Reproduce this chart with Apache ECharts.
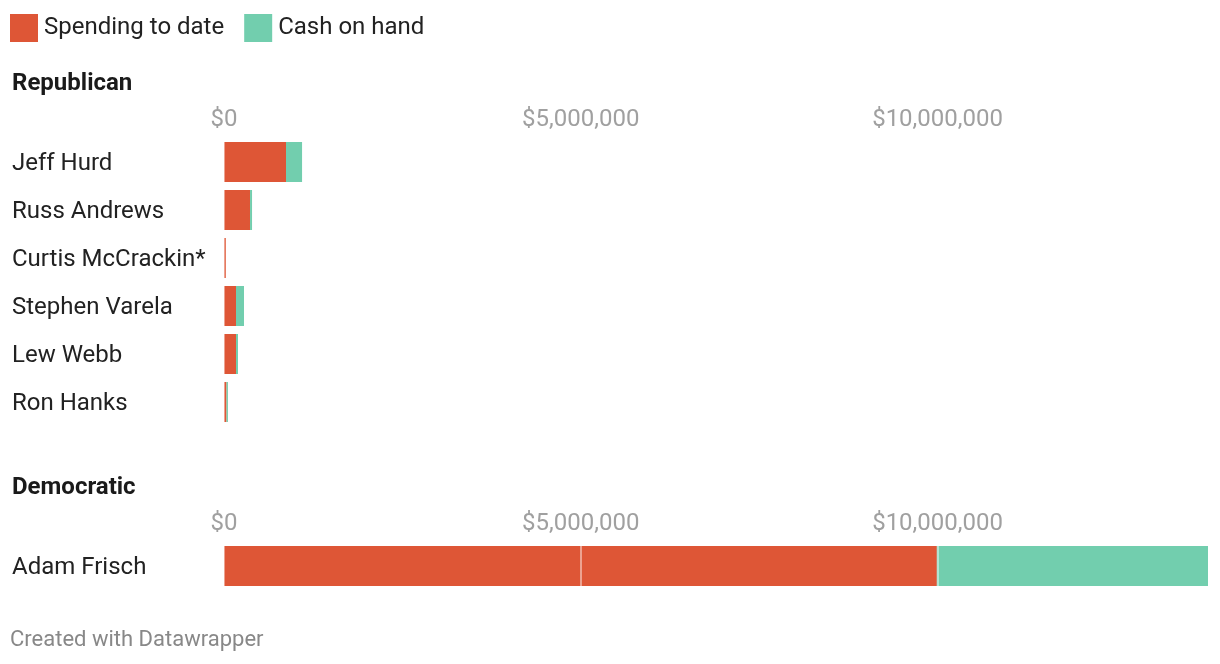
<!DOCTYPE html>
<html>
<head>
<meta charset="utf-8">
<script src="https://cdn.jsdelivr.net/npm/echarts@6/dist/echarts.min.js"></script>
<style>
html,body{margin:0;padding:0;background:#fff;}
#chart{width:1220px;height:664px;}
</style>
</head>
<body>
<div id="chart"></div>
<script>
const seriesNames = ['Spending to date', 'Cash on hand'];
const repNames = ['Jeff Hurd', 'Russ Andrews', 'Curtis McCrackin*', 'Stephen Varela', 'Lew Webb', 'Ron Hanks'];
const repSpending = [869000, 365000, 25000, 168000, 168000, 35000];
const repCash = [225000, 28000, 0, 112000, 28000, 20000];
const demNames = ['Adam Frisch'];
const demSpending = [9990000];
const demCash = [3800000];
const tickValues = [0, 5000000, 10000000];

const RED = '#de5636';
const GREEN = '#72ceae';
const FONT = 'Roboto';

const totals = repSpending.map((v, i) => v + repCash[i]).concat(demSpending.map((v, i) => v + demCash[i]));
const axisMax = Math.max(...totals);

function fmt(v) { return '$' + Math.round(v).toLocaleString('en-US'); }

function xAxisFor(gi) {
  return {
    type: 'value', gridIndex: gi, position: 'top', min: 0, max: axisMax, interval: 5000000,
    axisLine: {show: false}, axisTick: {show: false}, splitLine: {show: false},
    axisLabel: {
      show: true, margin: 6, color: '#a0a0a0', fontFamily: FONT, fontSize: 24,
      showMaxLabel: false,
      formatter: v => tickValues.includes(v) ? fmt(v) : ''
    }
  };
}
function yAxisFor(gi, names) {
  return {
    type: 'category', gridIndex: gi, data: names, inverse: true,
    axisLine: {show: false}, axisTick: {show: false}, splitLine: {show: false},
    axisLabel: {
      margin: 212, align: 'left', verticalAlign: 'middle', color: '#222', fontFamily: FONT, fontSize: 24,
      formatter: v => '{n|' + v + '}',
      rich: {n: {color: '#222', fontFamily: FONT, fontSize: 24, height: 24, padding: [4, 0, 0, 0]}}
    }
  };
}
const gridMarks = {
  silent: true, symbol: 'none', animation: false,
  label: {show: false},
  lineStyle: {color: 'rgba(255,255,255,0.45)', width: 2, type: 'solid'},
  data: tickValues.map(v => ({xAxis: v}))
};
function barSeries(gi, name, data, color, stack, withMarks) {
  const s = {
    type: 'bar', name: name, xAxisIndex: gi, yAxisIndex: gi, stack: stack,
    data: data, barWidth: 40, itemStyle: {color: color}, animation: false,
    z: withMarks ? 3 : 2
  };
  if (withMarks) s.markLine = gridMarks;
  return s;
}

const chart = echarts.init(document.getElementById('chart'), null, {renderer: 'canvas'});
chart.setOption({
  backgroundColor: '#fff',
  animation: false,
  textStyle: {fontFamily: FONT},
  legend: {
    left: 5, top: 9, itemWidth: 28, itemHeight: 28, itemGap: 20, icon: 'rect',
    selectedMode: false,
    textStyle: {fontFamily: FONT, fontSize: 24, color: '#222', padding: [2, 0, 0, 1]},
    data: seriesNames
  },
  grid: [
    {left: 224, right: 12, top: 138, height: 288},
    {left: 224, right: 12, top: 542, height: 48}
  ],
  xAxis: [xAxisFor(0), xAxisFor(1)],
  yAxis: [yAxisFor(0, repNames), yAxisFor(1, demNames)],
  graphic: [
    {type: 'text', left: 12, top: 72, style: {text: 'Republican', fontFamily: FONT, fontSize: 24, fontWeight: 'bold', fill: '#1a1a1a'}},
    {type: 'text', left: 12, top: 476, style: {text: 'Democratic', fontFamily: FONT, fontSize: 24, fontWeight: 'bold', fill: '#1a1a1a'}},
    {type: 'text', left: 10, top: 629, style: {text: 'Created with Datawrapper', fontFamily: FONT, fontSize: 22, fill: '#888'}}
  ],
  series: [
    barSeries(0, seriesNames[0], repSpending, RED, 'r', false),
    barSeries(0, seriesNames[1], repCash, GREEN, 'r', true),
    barSeries(1, seriesNames[0], demSpending, RED, 'd', false),
    barSeries(1, seriesNames[1], demCash, GREEN, 'd', true)
  ]
});
</script>
</body>
</html>
